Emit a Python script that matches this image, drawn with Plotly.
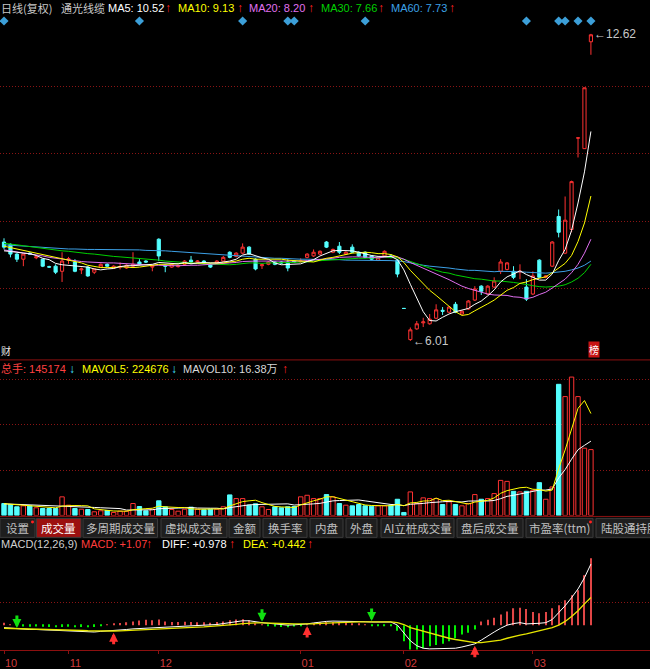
import plotly.graph_objects as go

W, H = 650, 669
FONT = "Liberation Sans, Noto Sans CJK SC, sans-serif"
CJK = "Noto Sans CJK SC, Liberation Sans, sans-serif"

RED = '#ff3232'
CYAN = '#54ffff'
BLACK = '#000000'
C5, C10, C20, C30, C60 = '#ffffff', '#ffff00', '#e070f0', '#00d000', '#3ca0e6'
GRID = '#8a1414'
AXIS_RED = '#8c1010'
LABEL_RED = '#d03c3c'
MACD_RED = '#e04646'
MACD_GREEN = '#00f000'
DIAMOND = '#3c9fd8'

# ---------------- data ----------------
months = ['10', '11', '12', '01', '02', '03']
month_first_bar = [0, 10, 24, 46, 62, 82]
signal_bars = [0, 21, 37, 44, 45, 56, 81, 86, 87, 89, 91]
golden_cross_bars = [17, 47, 73]
death_cross_bars = [2, 40, 57]
price_grid = [12.92, 11.48, 10.05, 8.59, 7.13]
vol_grid = [100000, 200000, 300000]
macd_grid = [0.37]

open_ = [8.14, 8.09, 7.88, 7.77, 7.90, 7.80, 7.77, 7.61, 7.62, 7.51,
         7.75, 7.71, 7.54, 7.60, 7.49, 7.60, 7.66, 7.58, 7.60, 7.58,
         7.62, 7.71, 7.73, 7.60, 8.20, 7.64, 7.60, 7.61, 7.66, 7.75,
         7.71, 7.73, 7.66, 7.69, 7.73, 7.92, 7.83, 7.90, 8.03, 7.77,
         7.63, 7.66, 7.71, 7.71, 7.71, 7.73, 7.71, 7.81, 7.84, 7.88,
         8.14, 7.92, 8.05, 7.88, 8.03, 7.92, 7.92, 7.84, 7.75, 7.84,
         7.84, 7.75, 6.71, 6.04, 6.27, 6.40, 6.38, 6.50, 6.67, 6.63,
         6.80, 6.59, 6.70, 6.89, 7.19, 7.02, 7.17, 7.51, 7.55, 7.51,
         7.49, 7.17, 7.02, 7.75, 7.38, 7.62, 8.69, 7.90, 8.41, 10.38,
         10.15, 12.45]
high_ = [8.22, 8.11, 7.90, 7.88, 7.92, 7.85, 7.78, 7.63, 7.66, 7.92,
         7.82, 7.77, 7.59, 7.62, 7.57, 7.68, 7.68, 7.64, 7.70, 7.66,
         7.92, 7.77, 7.75, 7.64, 8.22, 7.66, 7.68, 7.65, 7.75, 7.84,
         7.75, 7.75, 7.68, 7.75, 7.84, 7.94, 7.92, 8.11, 8.05, 7.79,
         7.67, 7.73, 7.73, 7.73, 7.77, 7.75, 7.79, 7.90, 7.98, 7.96,
         8.16, 8.00, 8.14, 7.94, 8.09, 7.94, 7.94, 7.86, 7.83, 7.96,
         7.88, 7.77, 6.71, 6.30, 6.44, 6.51, 6.59, 6.80, 6.74, 6.76,
         6.85, 6.67, 6.89, 7.19, 7.21, 7.21, 7.38, 7.77, 7.71, 7.62,
         7.66, 7.34, 7.51, 7.77, 7.43, 8.16, 8.84, 9.12, 9.46, 10.38,
         11.46, 12.62]
low_ = [7.98, 7.81, 7.71, 7.62, 7.86, 7.77, 7.60, 7.58, 7.45, 7.28,
        7.67, 7.49, 7.45, 7.39, 7.45, 7.58, 7.60, 7.57, 7.55, 7.56,
        7.60, 7.64, 7.69, 7.51, 7.73, 7.49, 7.58, 7.59, 7.64, 7.69,
        7.69, 7.66, 7.58, 7.67, 7.71, 7.79, 7.81, 7.88, 7.86, 7.53,
        7.56, 7.64, 7.64, 7.66, 7.51, 7.69, 7.69, 7.79, 7.82, 7.86,
        8.01, 7.90, 7.88, 7.86, 7.90, 7.82, 7.79, 7.75, 7.73, 7.82,
        7.79, 7.38, 6.71, 6.01, 6.25, 6.31, 6.36, 6.48, 6.57, 6.61,
        6.61, 6.57, 6.68, 6.87, 7.00, 7.00, 7.15, 7.45, 7.53, 7.34,
        7.34, 6.87, 7.00, 7.36, 7.36, 7.60, 8.24, 7.88, 8.35, 9.96,
        10.15, 12.17]
close_ = [8.03, 7.88, 7.77, 7.88, 7.88, 7.82, 7.62, 7.60, 7.49, 7.73,
          7.78, 7.51, 7.56, 7.41, 7.56, 7.66, 7.62, 7.62, 7.61, 7.64,
          7.66, 7.66, 7.71, 7.62, 7.84, 7.62, 7.66, 7.63, 7.73, 7.71,
          7.73, 7.69, 7.60, 7.73, 7.81, 7.81, 7.90, 8.03, 7.88, 7.56,
          7.65, 7.71, 7.66, 7.69, 7.58, 7.71, 7.73, 7.88, 7.92, 7.94,
          8.03, 7.98, 7.92, 7.92, 7.92, 7.84, 7.81, 7.77, 7.81, 7.94,
          7.81, 7.45, 6.71, 6.25, 6.38, 6.42, 6.48, 6.68, 6.65, 6.74,
          6.63, 6.65, 6.87, 7.13, 7.08, 7.19, 7.30, 7.71, 7.69, 7.38,
          7.51, 6.91, 7.41, 7.38, 7.41, 8.14, 8.35, 8.61, 9.44, 10.38,
          11.46, 12.60]

ma5 = [7.95, 7.94, 7.92, 7.90, 7.89, 7.85, 7.79, 7.76, 7.68, 7.65,
       7.64, 7.62, 7.61, 7.60, 7.56, 7.54, 7.56, 7.57, 7.61, 7.63,
       7.63, 7.64, 7.66, 7.66, 7.70, 7.69, 7.69, 7.67, 7.70, 7.67,
       7.69, 7.70, 7.69, 7.69, 7.71, 7.73, 7.77, 7.86, 7.89, 7.84,
       7.80, 7.77, 7.69, 7.65, 7.66, 7.67, 7.67, 7.72, 7.76, 7.84,
       7.90, 7.95, 7.96, 7.96, 7.95, 7.92, 7.88, 7.85, 7.83, 7.83,
       7.83, 7.76, 7.54, 7.23, 6.92, 6.64, 6.45, 6.44, 6.52, 6.59,
       6.64, 6.67, 6.71, 6.80, 6.87, 6.98, 7.11, 7.28, 7.39, 7.45,
       7.52, 7.44, 7.38, 7.32, 7.32, 7.45, 7.74, 7.98, 8.39, 8.98,
       9.65, 10.52]
ma10 = [8.05, 8.02, 7.99, 7.96, 7.93, 7.90, 7.87, 7.84, 7.80, 7.77,
        7.75, 7.71, 7.69, 7.64, 7.61, 7.59, 7.59, 7.59, 7.61, 7.60,
        7.59, 7.60, 7.62, 7.64, 7.66, 7.66, 7.66, 7.67, 7.68, 7.68,
        7.69, 7.69, 7.68, 7.69, 7.69, 7.71, 7.73, 7.77, 7.79, 7.77,
        7.77, 7.77, 7.77, 7.77, 7.75, 7.74, 7.72, 7.71, 7.71, 7.75,
        7.79, 7.81, 7.84, 7.86, 7.90, 7.91, 7.92, 7.91, 7.89, 7.89,
        7.87, 7.82, 7.70, 7.53, 7.38, 7.24, 7.10, 6.99, 6.88, 6.76,
        6.64, 6.56, 6.58, 6.66, 6.73, 6.81, 6.89, 7.00, 7.10, 7.16,
        7.25, 7.28, 7.33, 7.36, 7.39, 7.48, 7.59, 7.68, 7.85, 8.15,
        8.55, 9.13]
ma20 = [7.97, 7.95, 7.93, 7.91, 7.89, 7.87, 7.84, 7.81, 7.79, 7.77,
        7.75, 7.73, 7.72, 7.71, 7.70, 7.70, 7.69, 7.69, 7.68, 7.68,
        7.67, 7.65, 7.65, 7.64, 7.64, 7.63, 7.63, 7.63, 7.64, 7.64,
        7.64, 7.65, 7.65, 7.67, 7.68, 7.69, 7.70, 7.72, 7.73, 7.73,
        7.73, 7.73, 7.73, 7.73, 7.72, 7.72, 7.73, 7.74, 7.75, 7.76,
        7.78, 7.79, 7.81, 7.82, 7.82, 7.82, 7.82, 7.81, 7.80, 7.82,
        7.83, 7.82, 7.77, 7.70, 7.64, 7.57, 7.51, 7.45, 7.39, 7.33,
        7.26, 7.19, 7.14, 7.10, 7.06, 7.02, 7.00, 6.99, 6.99, 6.96,
        6.95, 6.92, 6.95, 7.01, 7.06, 7.15, 7.24, 7.34, 7.48, 7.66,
        7.90, 8.20]
ma30 = [8.11, 8.10, 8.08, 8.06, 8.04, 8.02, 8.00, 7.98, 7.97, 7.95,
        7.94, 7.92, 7.91, 7.89, 7.88, 7.86, 7.85, 7.83, 7.82, 7.81,
        7.80, 7.78, 7.77, 7.76, 7.75, 7.73, 7.72, 7.70, 7.69, 7.68,
        7.67, 7.67, 7.66, 7.66, 7.65, 7.65, 7.66, 7.68, 7.69, 7.69,
        7.68, 7.69, 7.69, 7.70, 7.70, 7.70, 7.71, 7.71, 7.73, 7.74,
        7.75, 7.76, 7.77, 7.78, 7.78, 7.79, 7.79, 7.79, 7.80, 7.81,
        7.81, 7.80, 7.77, 7.72, 7.67, 7.63, 7.58, 7.53, 7.49, 7.47,
        7.43, 7.40, 7.37, 7.35, 7.34, 7.32, 7.30, 7.30, 7.29, 7.27,
        7.25, 7.22, 7.20, 7.18, 7.17, 7.18, 7.19, 7.22, 7.28, 7.36,
        7.48, 7.66]
ma60 = [8.08, 8.07, 8.06, 8.05, 8.04, 8.03, 8.02, 8.01, 8.00, 8.00,
        7.99, 7.99, 7.98, 7.98, 7.98, 7.98, 7.98, 7.98, 7.97, 7.97,
        7.97, 7.97, 7.96, 7.96, 7.96, 7.95, 7.94, 7.93, 7.92, 7.91,
        7.90, 7.89, 7.88, 7.87, 7.86, 7.85, 7.84, 7.83, 7.82, 7.81,
        7.80, 7.80, 7.79, 7.79, 7.78, 7.78, 7.77, 7.77, 7.77, 7.76,
        7.76, 7.76, 7.76, 7.75, 7.75, 7.75, 7.75, 7.75, 7.74, 7.74,
        7.74, 7.73, 7.72, 7.69, 7.66, 7.64, 7.62, 7.61, 7.59, 7.58,
        7.56, 7.54, 7.53, 7.53, 7.52, 7.51, 7.50, 7.51, 7.51, 7.50,
        7.50, 7.49, 7.48, 7.48, 7.47, 7.48, 7.49, 7.51, 7.54, 7.58,
        7.64, 7.73]

volume = [26300, 24100, 19100, 21200, 21200, 16900, 15300, 15300, 15300, 41000,
          22600, 15300, 13800, 13100, 8100, 10300, 11000, 6600, 9400, 9400,
          26300, 19700, 10300, 13800, 32200, 19100, 13100, 9400, 13800, 18200,
          13800, 12500, 13800, 13800, 19100, 45300, 37200, 37200, 22600, 25600,
          19100, 13100, 19100, 16900, 19100, 19700, 41000, 44500, 37200, 37200,
          46000, 41000, 26300, 22600, 21200, 24100, 21200, 20400, 21200, 21200,
          22600, 35700, 6600, 51900, 26300, 38800, 37200, 37200, 24100, 30000,
          24100, 21200, 26300, 46000, 35700, 37200, 48200, 77300, 75100, 53200,
          51900, 53200, 55400, 72300, 35700, 62900, 289100, 262000, 305000, 262000,
          148300, 145174]
mavol5 = [26000, 25000, 23500, 22500, 22380, 20500, 18740, 17980, 16800, 20760,
          21900, 21900, 21600, 21160, 14580, 12120, 11260, 9820, 9080, 9340,
          12540, 14280, 15020, 15900, 20460, 19020, 17700, 17520, 17520, 14720,
          13660, 13540, 14420, 14420, 14600, 20900, 25840, 30520, 32280, 33580,
          28340, 23520, 19900, 18760, 17460, 17580, 23160, 28240, 32300, 35920,
          41180, 41180, 37540, 34620, 31420, 27040, 23080, 21900, 21620, 21620,
          21320, 24220, 21460, 27600, 28620, 31860, 32160, 38280, 32720, 33460,
          30520, 27320, 25140, 29520, 30660, 33280, 38680, 48880, 54700, 58200,
          61140, 62140, 57760, 57200, 53700, 55900, 103040, 144360, 190900, 236160,
          253240, 224676]
mavol10 = [25600, 25100, 24600, 24100, 23600, 23100, 22600, 22200, 21800, 21570,
           21200, 20320, 19790, 18980, 17670, 17010, 16580, 15710, 15120, 11960,
           12330, 12770, 12420, 12490, 14900, 15780, 15990, 16270, 16710, 17590,
           16340, 15620, 15970, 15970, 14660, 17280, 19690, 22470, 23350, 24090,
           24620, 24680, 25210, 25520, 25520, 22960, 23340, 24070, 25530, 26690,
           29380, 32170, 32890, 33460, 33670, 34110, 32130, 29720, 28120, 26520,
           24180, 23650, 21680, 24610, 25120, 26590, 28190, 29870, 30160, 31040,
           31190, 29740, 31710, 31120, 32060, 31900, 33000, 37010, 42110, 44430,
           47210, 50410, 53320, 55950, 55950, 58520, 82610, 101080, 124070, 144950,
           154590, 163800]

diff_ = [-0.04, -0.05, -0.06, -0.065, -0.07, -0.07, -0.075, -0.08, -0.09, -0.09,
         -0.09, -0.10, -0.10, -0.11, -0.11, -0.10, -0.095, -0.09, -0.08, -0.07,
         -0.06, -0.055, -0.05, -0.05, -0.035, -0.04, -0.035, -0.03, -0.02, -0.015,
         -0.01, -0.005, 0.0, 0.01, 0.025, 0.04, 0.055, 0.07, 0.07, 0.05,
         0.04, 0.03, 0.02, 0.01, 0.0, 0.005, 0.01, 0.02, 0.035, 0.05,
         0.06, 0.065, 0.065, 0.065, 0.065, 0.06, 0.055, 0.05, 0.05, 0.05,
         0.05, 0.0, -0.13, -0.25, -0.33, -0.37, -0.38, -0.38, -0.37, -0.37,
         -0.37, -0.35, -0.32, -0.30, -0.24, -0.17, -0.11, -0.05, 0.0, 0.025,
         0.04, 0.02, 0.02, 0.03, 0.04, 0.09, 0.20, 0.31, 0.44, 0.58,
         0.76, 0.978]
dea_ = [-0.05, -0.052, -0.054, -0.056, -0.058, -0.06, -0.063, -0.066, -0.07, -0.074,
        -0.078, -0.082, -0.086, -0.09, -0.094, -0.095, -0.095, -0.094, -0.092, -0.088,
        -0.083, -0.078, -0.073, -0.069, -0.062, -0.058, -0.053, -0.049, -0.043, -0.038,
        -0.032, -0.027, -0.021, -0.015, -0.007, 0.002, 0.013, 0.024, 0.033, 0.036,
        0.037, 0.036, 0.033, 0.028, 0.022, 0.019, 0.017, 0.018, 0.021, 0.027,
        0.033, 0.039, 0.044, 0.048, 0.051, 0.053, 0.053, 0.053, 0.052, 0.052,
        0.051, 0.04, 0.01, -0.04, -0.07, -0.10, -0.13, -0.16, -0.18, -0.21,
        -0.23, -0.25, -0.27, -0.28, -0.28, -0.27, -0.255, -0.24, -0.21, -0.18,
        -0.16, -0.14, -0.115, -0.09, -0.065, -0.04, 0.0, 0.06, 0.14, 0.23,
        0.34, 0.442]
macd_ = [0.04, 0.01, -0.01, -0.02, -0.025, -0.02, -0.025, -0.03, -0.035, -0.03,
         -0.025, -0.035, -0.03, -0.035, -0.03, -0.01, 0.01, 0.02, 0.035, 0.045,
         0.06, 0.075, 0.085, 0.08, 0.09, 0.06, 0.05, 0.05, 0.055, 0.05,
         0.045, 0.045, 0.04, 0.05, 0.06, 0.08, 0.09, 0.095, 0.08, 0.03,
         0.01, -0.01, -0.02, -0.03, -0.035, -0.02, -0.01, 0.01, 0.03, 0.045,
         0.055, 0.05, 0.045, 0.04, 0.03, 0.02, 0.01, -0.01, -0.01, -0.005,
         -0.015, -0.09, -0.26, -0.39, -0.39, -0.37, -0.34, -0.32, -0.30, -0.26,
         -0.21, -0.15, -0.12, -0.07, 0.06, 0.085, 0.12, 0.17, 0.22, 0.27,
         0.28, 0.26, 0.21, 0.19, 0.21, 0.27, 0.32, 0.40, 0.48, 0.56,
         0.80, 1.07]

tabs = ['设置', '成交量', '多周期成交量', '虚拟成交量', '金额', '换手率', '内盘', '外盘',
        'AI立桩成交量', '盘后成交量', '市盈率(ttm)', '陆股通持股']
# ---------------------------------------

n = len(close_)
xs = list(range(n))


def is_up(i):
    if close_[i] != open_[i]:
        return close_[i] > open_[i]
    return i == 0 or close_[i] >= close_[i - 1]


up = [is_up(i) for i in xs]


def fx(px):
    return px / W


def fy(py):
    return 1 - py / H


fig = go.Figure()

fig.add_trace(go.Candlestick(
    x=xs, open=open_, high=high_, low=low_, close=close_,
    increasing=dict(line=dict(color=RED, width=1), fillcolor=BLACK),
    decreasing=dict(line=dict(color=CYAN, width=1), fillcolor=CYAN),
    whiskerwidth=0, xaxis='x', yaxis='y', hoverinfo='skip'))

for vals, col in [(ma60, C60), (ma30, C30), (ma20, C20), (ma10, C10), (ma5, C5)]:
    fig.add_trace(go.Scatter(x=xs, y=vals, mode='lines', line=dict(color=col, width=1),
                             xaxis='x', yaxis='y', hoverinfo='skip'))

fig.add_trace(go.Scatter(x=signal_bars, y=[0.5] * len(signal_bars), mode='markers',
                         marker=dict(symbol='diamond', size=7, color=DIAMOND),
                         xaxis='x', yaxis='y4', hoverinfo='skip', cliponaxis=False))

fig.add_trace(go.Bar(
    x=xs, y=volume, width=0.68,
    marker=dict(color=[BLACK if u else CYAN for u in up],
                line=dict(color=[RED if u else CYAN for u in up], width=1)),
    xaxis='x2', yaxis='y2', hoverinfo='skip'))
fig.add_trace(go.Scatter(x=xs, y=mavol10, mode='lines', line=dict(color='#ffffff', width=1),
                         xaxis='x2', yaxis='y2', hoverinfo='skip'))
fig.add_trace(go.Scatter(x=xs, y=mavol5, mode='lines', line=dict(color='#ffff00', width=1),
                         xaxis='x2', yaxis='y2', hoverinfo='skip'))

fig.add_trace(go.Bar(
    x=xs, y=macd_, width=0.17,
    marker=dict(color=[MACD_RED if v >= 0 else MACD_GREEN for v in macd_], line=dict(width=0)),
    xaxis='x3', yaxis='y3', hoverinfo='skip'))
fig.add_trace(go.Scatter(x=xs, y=diff_, mode='lines', line=dict(color='#ffffff', width=1),
                         xaxis='x3', yaxis='y3', hoverinfo='skip'))
fig.add_trace(go.Scatter(x=xs, y=dea_, mode='lines', line=dict(color='#e6e600', width=1.3),
                         xaxis='x3', yaxis='y3', hoverinfo='skip'))

# cross arrows in MACD panel
for i in death_cross_bars:
    fig.add_annotation(x=i, y=diff_[i], xref='x3', yref='y3', text='', showarrow=True,
                       ax=0, ay=-15, arrowhead=2, arrowsize=0.6, arrowwidth=3,
                       arrowcolor='#10e010', standoff=1)
for i in golden_cross_bars:
    fig.add_annotation(x=i, y=diff_[i], xref='x3', yref='y3', text='', showarrow=True,
                       ax=0, ay=15, arrowhead=2, arrowsize=0.6, arrowwidth=3,
                       arrowcolor='#ff3030', standoff=2)

# high / low labels
imax = max(xs, key=lambda i: high_[i])
imin = min(xs, key=lambda i: low_[i])
fig.add_annotation(x=imax, y=high_[imax], xref='x', yref='y', text='←' + f'{high_[imax]:.2f}',
                   showarrow=False, xanchor='left', yanchor='middle', xshift=1,
                   font=dict(color='#c8c8c8', size=12, family=FONT))
fig.add_annotation(x=imin, y=low_[imin], xref='x', yref='y', text='←' + f'{low_[imin]:.2f}',
                   showarrow=False, xanchor='left', yanchor='middle', xshift=1,
                   font=dict(color='#c8c8c8', size=12, family=FONT))


def label(px, py, text, color, size=11, family=FONT, **kw):
    fig.add_annotation(x=fx(px), y=fy(py), xref='paper', yref='paper', text=text,
                       showarrow=False, xanchor='left', yanchor='middle',
                       font=dict(color=color, size=size, family=family), **kw)


UP_ARROW = '<b>↑</b>'
DN_ARROW = '<b>↓</b>'
ARR_RED = '#ff2020'
ARR_CYAN = '#40e0ff'

# header of price panel
label(-1, 8, '日线(复权)', '#c8c8c8', 11, CJK)
label(59, 8, '通光线缆', '#c8c8c8', 11, CJK)
label(106, 8, f'MA5: {ma5[-1]:.2f}', C5)
label(163, 8, UP_ARROW, ARR_RED, 12)
label(176, 8, f'MA10: {ma10[-1]:.2f}', C10)
label(235, 8, UP_ARROW, ARR_RED, 12)
label(247, 8, f'MA20: {ma20[-1]:.2f}', C20)
label(306, 8, UP_ARROW, ARR_RED, 12)
label(319, 8, f'MA30: {ma30[-1]:.2f}', C30)
label(376, 8, UP_ARROW, ARR_RED, 12)
label(389, 8, f'MA60: {ma60[-1]:.2f}', C60)
label(447, 8, UP_ARROW, ARR_RED, 12)

# header of volume panel
label(-1, 370, f'总手: {volume[-1]}', '#ff4040', 11, FONT)
label(67, 370, DN_ARROW, ARR_CYAN, 12)
label(80, 370, f'MAVOL5: {mavol5[-1]}', '#ffff00')
label(169, 370, DN_ARROW, ARR_CYAN, 12)
label(181, 370, f'MAVOL10: {mavol10[-1] / 10000:.2f}万', '#d8d8d8')
label(280, 370, UP_ARROW, ARR_RED, 12)

# header of MACD panel
label(-1, 546, 'MACD(12,26,9)', '#d0d0d0')
label(79, 546, f'MACD: {macd_[-1]:+.2f}', '#ff3c3c')
label(144, 546, UP_ARROW, ARR_RED, 12)
label(160, 546, f'DIFF: {diff_[-1]:+.3f}', '#ffffff')
label(227, 546, UP_ARROW, ARR_RED, 12)
label(241, 546, f'DEA: {dea_[-1]:+.3f}', '#ffff00')
label(305, 546, UP_ARROW, ARR_RED, 12)

# corner badges
fig.add_annotation(x=fx(593.5), y=fy(351), xref='paper', yref='paper', text='榜',
                   showarrow=False, xanchor='center', yanchor='middle', bgcolor='#c81414',
                   borderpad=0, font=dict(color='#ffffff', size=10, family=CJK))
fig.add_annotation(x=fx(-1), y=fy(352), xref='paper', yref='paper', text='财',
                   showarrow=False, xanchor='left', yanchor='middle',
                   font=dict(color='#e8e8e8', size=10, family=CJK))

shapes = []
# panel separators
for yy in (361, 518):
    shapes.append(dict(type='line', xref='paper', yref='paper', x0=0, x1=1,
                       y0=fy(yy), y1=fy(yy), line=dict(color=AXIS_RED, width=1)))

# tab bar
tab_edges = [(0, 35), (36.5, 81), (83, 157.5), (161, 227), (229, 260), (263, 307),
             (310, 343), (346, 377), (381, 454), (457, 523), (526, 593), (596, 660)]
shapes.append(dict(type='rect', xref='paper', yref='paper', x0=0, x1=1, y0=fy(540), y1=fy(519),
                   fillcolor='#141414', line=dict(width=0), layer='below'))
for k, (a, b) in enumerate(tab_edges):
    fill = '#9c1010' if k == 1 else '#1e1e1e'
    shapes.append(dict(type='rect', xref='paper', yref='paper', x0=fx(a), x1=fx(b),
                       y0=fy(539), y1=fy(520), fillcolor=fill,
                       line=dict(color='#3a3a3a', width=1), layer='below'))
    tc = '#ffffff' if k == 1 else '#c0c0c0'
    if k == len(tabs) - 1:
        fig.add_annotation(x=fx(a + 3), y=fy(530), xref='paper', yref='paper', text=tabs[k],
                           showarrow=False, xanchor='left', yanchor='middle',
                           font=dict(color=tc, size=11.5, family=CJK))
    else:
        fig.add_annotation(x=fx((a + b) / 2), y=fy(530), xref='paper', yref='paper', text=tabs[k],
                           showarrow=False, xanchor='center', yanchor='middle',
                           font=dict(color=tc, size=11.5, family=CJK))
for k in (0, 10):
    a, b = tab_edges[k]
    shapes.append(dict(type='circle', xref='paper', yref='paper', x0=fx(b - 4), x1=fx(b - 1),
                       y0=fy(525), y1=fy(522), fillcolor='#ff2020', line=dict(width=0)))

common_x = dict(range=[-0.62, 100.16], showgrid=False, zeroline=False, fixedrange=True,
                domain=[0, 1])
grid_y = dict(showticklabels=False, showgrid=True, gridcolor=GRID, griddash='1px,2px',
              gridwidth=1, zeroline=False, fixedrange=True, ticks='')

fig.update_layout(
    width=W, height=H, margin=dict(l=0, r=0, t=0, b=0),
    paper_bgcolor=BLACK, plot_bgcolor=BLACK, showlegend=False,
    font=dict(family=FONT, color='#c0c0c0', size=11),
    shapes=shapes,
    xaxis=dict(**common_x, anchor='y', showticklabels=False, rangeslider=dict(visible=False)),
    xaxis2=dict(**common_x, anchor='y2', showticklabels=False, matches='x'),
    xaxis3=dict(**common_x, anchor='y3', matches='x', tickvals=month_first_bar, ticktext=months,
                showticklabels=True, ticks='outside', ticklen=3, tickcolor=AXIS_RED,
                showline=True, linecolor=AXIS_RED, linewidth=1, ticklabelshift=7,
                tickfont=dict(color=LABEL_RED, size=11, family=FONT)),
    yaxis=dict(**grid_y, anchor='x', domain=[fy(359), fy(18)], range=[5.645, 12.963],
               tickvals=price_grid),
    yaxis2=dict(**grid_y, anchor='x2', domain=[fy(517), fy(377)], range=[0, 307700],
                tickvals=vol_grid),
    yaxis3=dict(**grid_y, anchor='x3', domain=[fy(652), fy(555)], range=[-0.399, 1.150],
                tickvals=macd_grid),
    yaxis4=dict(anchor='x', domain=[fy(26), fy(16)], range=[0, 1], visible=False,
                fixedrange=True),
)

fig.write_html('out.html', config={'displayModeBar': False},
               post_script="document.body.style.margin='0';"
                           "document.body.style.backgroundColor='#000';"
                           "document.body.style.overflow='hidden';")
